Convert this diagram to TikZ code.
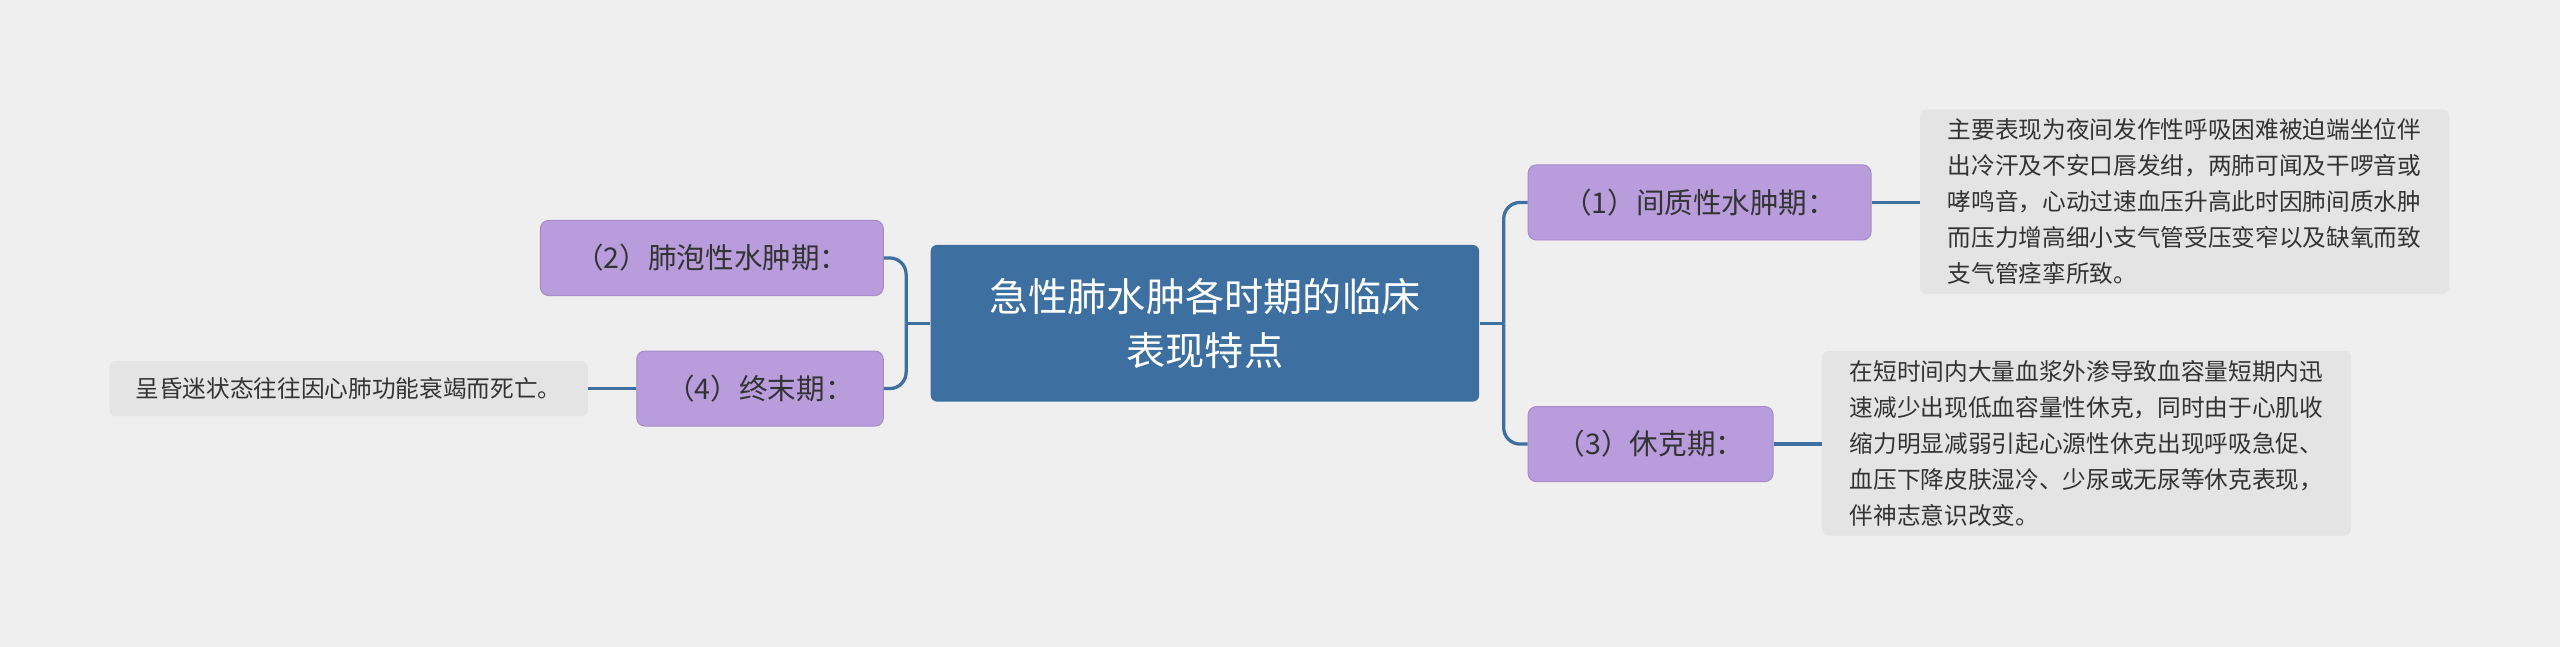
\documentclass[tikz,border=0pt]{standalone}
\usepackage{fontspec}
\setmainfont{Noto Sans CJK SC}
\begin{document}
\begin{tikzpicture}[x=1pt,y=-1pt,
  main/.style={fill=mainc,rounded corners=4pt,text=white,font=\fontsize{24}{33}\selectfont,align=center,minimum width=336pt,minimum height=96pt,inner sep=0pt},
  sub/.style={fill=subc,draw=subd,line width=0.6pt,rounded corners=5pt,text=textc,font=\fontsize{17.5}{22}\selectfont,minimum height=46pt,inner sep=0pt},
  leaf/.style={fill=leafc,rounded corners=4pt,text=textc,font=\fontsize{14.5}{22}\selectfont,align=left,inner sep=0pt},
  conn/.style={draw=mainc,line width=2pt}]
\definecolor{bg}{HTML}{EFEFEF}
\definecolor{mainc}{HTML}{3D6FA0}
\definecolor{subc}{HTML}{B89CDB}
\definecolor{subd}{HTML}{A68AC9}
\definecolor{leafc}{HTML}{E4E4E4}
\definecolor{textc}{HTML}{333333}
\fill[bg] (0,0) rectangle (1568,396);
\useasboundingbox (0,0) rectangle (1568,396);
\node[main] (c) at (738,198) {急性肺水肿各时期的临床\\表现特点};
\node[sub,minimum width=210pt] (n1) at (1041,124) {（1）间质性水肿期：};
\node[sub,minimum width=150pt] (n3) at (1011,272) {（3）休克期：};
\node[sub,minimum width=210pt] (n2) at (436,158) {（2）肺泡性水肿期：};
\node[sub,minimum width=151pt] (n4) at (465.5,238) {（4）终末期：};
\node[leaf,minimum width=324pt,minimum height=113pt] (l1) at (1338,123.5) {主要表现为夜间发作性呼吸困难被迫端坐位伴\\出冷汗及不安口唇发绀，两肺可闻及干啰音或\\哮鸣音，心动过速血压升高此时因肺间质水肿\\而压力增高细小支气管受压变窄以及缺氧而致\\支气管痉挛所致。};
\node[leaf,minimum width=324pt,minimum height=113pt] (l3) at (1278,271.5) {在短时间内大量血浆外渗导致血容量短期内迅\\速减少出现低血容量性休克，同时由于心肌收\\缩力明显减弱引起心源性休克出现呼吸急促、\\血压下降皮肤湿冷、少尿或无尿等休克表现，\\伴神志意识改变。};
\node[leaf,minimum width=293pt,minimum height=34pt,align=center] (l4) at (213.5,238) {呈昏迷状态往往因心肺功能衰竭而死亡。};
\coordinate (r) at (921,198);
\coordinate (l) at (555,198);
\draw[conn] (c.east) -- (r);
\draw[conn,rounded corners=10pt] (r) |- (n1.west);
\draw[conn,rounded corners=10pt] (r) |- (n3.west);
\draw[conn] (c.west) -- (l);
\draw[conn,rounded corners=10pt] (l) |- (n2.east);
\draw[conn,rounded corners=10pt] (l) |- (n4.east);
\draw[conn] (n1.east) -- (l1.west |- n1.east);
\draw[conn] (n3.east) -- (l3.west |- n3.east);
\draw[conn] (n4.west) -- (l4.east);
\end{tikzpicture}
\end{document}
